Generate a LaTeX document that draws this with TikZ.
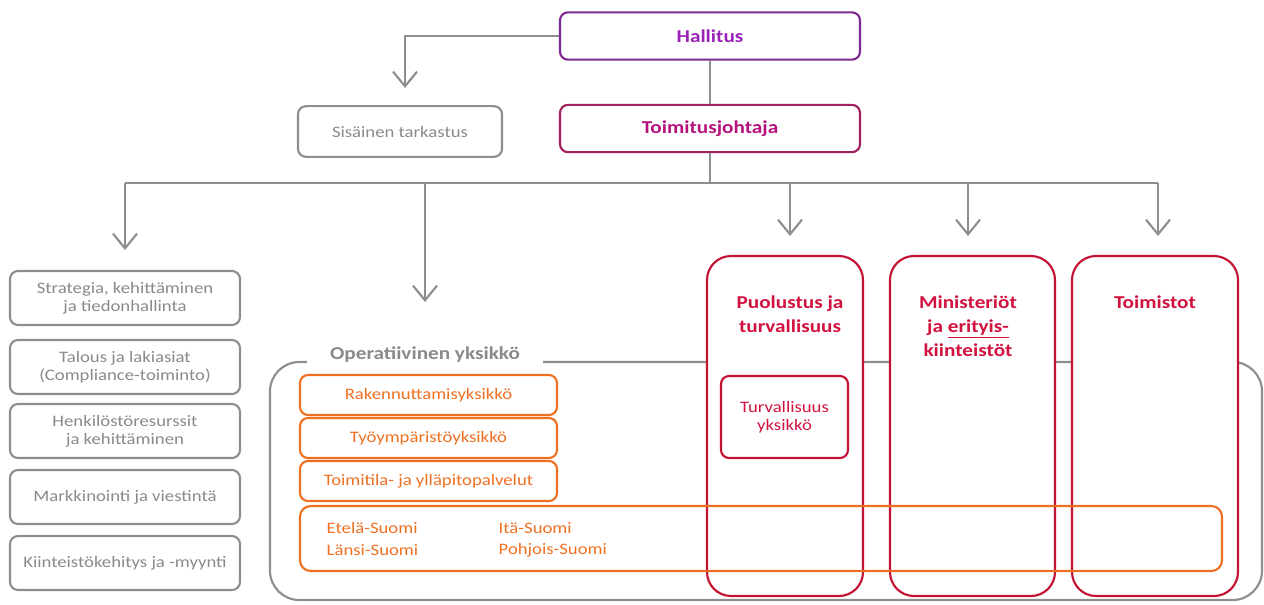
\documentclass[tikz,border=0pt]{standalone}
\usepackage{fontspec}
\setmainfont{Carlito}[FakeStretch=1.17]
\usetikzlibrary{arrows.meta,positioning}

\definecolor{linegrey}{HTML}{8E8E8E}
\definecolor{textgrey}{HTML}{8A8A8A}
\definecolor{boardpurple}{HTML}{7B2A92}
\definecolor{boardtext}{HTML}{9A22B8}
\definecolor{ceomagenta}{HTML}{A3205E}
\definecolor{ceotext}{HTML}{B5127C}
\definecolor{oporange}{HTML}{F07022}
\definecolor{segred}{HTML}{C41234}
\definecolor{segtext}{HTML}{D2123E}

\begin{document}
\begin{tikzpicture}[x=0.75pt, y=-0.75pt,
    box/.style={rectangle, rounded corners=6pt, draw=linegrey, line width=1.6pt, fill=white, text=textgrey, align=center, font=\fontsize{12}{13.5}\selectfont},
    topbox/.style={box, minimum width=225pt, minimum height=35.5pt, font=\bfseries\fontsize{13.6}{15}\selectfont},
    staffbox/.style={box, minimum width=172.5pt, minimum height=40.5pt},
    opbox/.style={box, draw=oporange, text=oporange, minimum width=192.75pt, minimum height=30pt},
    segment/.style={rectangle, rounded corners=18pt, draw=segred, line width=1.6pt, fill=white, minimum height=255pt},
    segtitle/.style={anchor=north, text=segtext, align=center, font=\bfseries\fontsize{13.6}{18}\selectfont},
    region/.style={anchor=west, text=oporange, font=\fontsize{12}{13.5}\selectfont},
    line/.style={draw=linegrey, line width=1.8pt},
    arrow/.style={line, -{Straight Barb[length=11pt, width=18pt, line width=1.6pt]}},
]
    \useasboundingbox (0,0) rectangle (1264,604);

    % Board and management
    \node[topbox, draw=boardpurple, text=boardtext] (hall) at (710,36) {Hallitus};
    \node[topbox, draw=ceomagenta, text=ceotext] (toim) at (710,128.5) {Toimitusjohtaja};
    \node[box, minimum width=153pt, minimum height=38pt] (audit) at (400,131.5) {Sisäinen tarkastus};

    % Staff functions
    \node[staffbox] (strat) at (125,298) {Strategia, kehittäminen\\ja tiedonhallinta};
    \node[staffbox] (fin) at (125,367) {Talous ja lakiasiat\\(Compliance-toiminto)};
    \node[staffbox] (hr) at (125,431) {Henkilöstöresurssit\\ja kehittäminen};
    \node[staffbox] (mark) at (125,497) {Markkinointi ja viestintä};
    \node[staffbox] (dev) at (125,563) {Kiinteistökehitys ja -myynti};

    % Operative unit
    \node[rectangle, rounded corners=22pt, draw=linegrey, line width=1.6pt, minimum width=744pt, minimum height=178.5pt] (opunit) at (766,481) {};
    \node[fill=white, text=textgrey, minimum width=177pt, minimum height=18pt, font=\bfseries\fontsize{13.6}{15}\selectfont] (oplabel) at (425,355) {Operatiivinen yksikkö};
    \node[opbox] (build) at (428.5,395) {Rakennuttamisyksikkö};
    \node[opbox] (work) at (428.5,438) {Työympäristöyksikkö};
    \node[opbox] (maint) at (428.5,481) {Toimitila- ja ylläpitopalvelut};

    % Customer segments
    \node[segment, minimum width=117pt] (defence) at (785,426) {};
    \node[segment, minimum width=123.75pt] (minis) at (972.5,426) {};
    \node[segment, minimum width=124.5pt] (offices) at (1155,426) {};
    \node[segtitle] (deftitle) at (790,291) {Puolustus ja\\turvallisuus};
    \node[segtitle] (mintitle) at (968,291) {Ministeriöt\\ja \underline{erityis-}\\kiinteistöt};
    \node[segtitle] (offtitle) at (1155,291) {Toimistot};
    \node[box, draw=segred, text=segtext, minimum width=95.25pt, minimum height=61.5pt] (secunit) at (784.5,417) {Turvallisuus\\yksikkö};

    % Regions
    \node[rectangle, rounded corners=8pt, draw=oporange, line width=1.6pt, minimum width=691.5pt, minimum height=48.75pt] (regions) at (761,538.5) {};
    \node[region] (etela) at (322,528) {Etelä-Suomi};
    \node[region] (lansi) at (322,550) {Länsi-Suomi};
    \node[region] (ita) at (494,528) {Itä-Suomi};
    \node[region] (pohjois) at (494,550) {Pohjois-Suomi};

    % Connectors
    \coordinate (busl) at (125,183);
    \coordinate (bus) at (710,183);
    \coordinate (busr) at (1158,183);
    \coordinate (toaudit) at (405,88);
    \coordinate (tostaff) at (125,250);
    \coordinate (toop) at (425,302);
    \coordinate (todef) at (790,236);
    \coordinate (tomin) at (968,236);
    \coordinate (tooff) at (1158,236);

    \draw[arrow] (hall.west) -| (toaudit);
    \draw[line] (hall) -- (toim);
    \draw[line] (toim) -- (bus);
    \draw[line] (busl) -- (busr);
    \draw[arrow] (busl) -- (tostaff);
    \draw[arrow] (bus -| toop) -- (toop);
    \draw[arrow] (bus -| todef) -- (todef);
    \draw[arrow] (bus -| tomin) -- (tomin);
    \draw[arrow] (busr) -- (tooff);
\end{tikzpicture}
\end{document}
